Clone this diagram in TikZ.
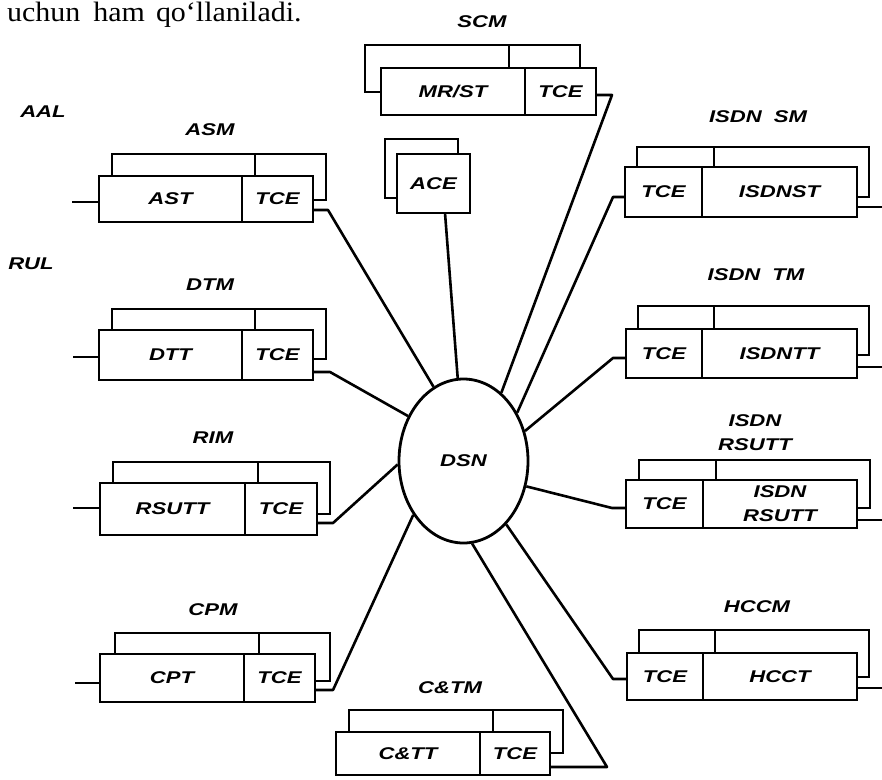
\documentclass[tikz,border=0pt]{standalone}
\usepackage{fontspec}
\newfontfamily\labfont[FakeStretch=1.3]{Liberation Sans}
\newfontfamily\topfont[FakeStretch=1.07]{Liberation Serif}
\usetikzlibrary{shapes.geometric,calc}
\tikzset{
 ln/.style={line width=2.8pt},
 lab/.style={font=\labfont\fontsize{17}{24}\selectfont\bfseries\itshape, inner sep=0pt, align=center},
 cell/.style={lab, draw, fill=white, line width=2.8pt, inner sep=0pt, outer sep=0pt},
 backbox/.style={draw, line width=2.8pt, inner sep=0pt, outer sep=0pt},
 conn/.style={line width=2.6pt, line join=round},
}
% #1 name, #2 left, #3 divider, #4 right, #5 top, #6 bottom, #7 shift of back box, #8 #9 texts
\newcommand\module[9]{%
 \node[backbox, minimum width={(#4-#2)*1pt}, minimum height={(#6-#5)*1pt}] (#1k) at ($({(#2+#4)/2},{(#5+#6)/2})+(#7)$) {};
 \draw[ln] ($(#3,#5)+(#7)$) -- ($(#3,#6)+(#7)$);
 \node[cell, minimum width={(#3-#2)*1pt}, minimum height={(#6-#5)*1pt}] (#1a) at ({(#2+#3)/2},{(#5+#6)/2}) {#8};
 \node[cell, minimum width={(#4-#3)*1pt}, minimum height={(#6-#5)*1pt}] (#1b) at ({(#3+#4)/2},{(#5+#6)/2}) {#9};
}
\begin{document}
\begin{tikzpicture}[x=1pt,y=-1pt]
\useasboundingbox (0,0) rectangle (882,779);

\node[font=\topfont\fontsize{28}{30}\selectfont, anchor=base west, inner sep=0pt] (toptext) at (7,21) {uchun\hspace{13pt}ham\hspace{11pt}qo‘llaniladi.};

% central switching network
\node[draw, ellipse, line width=2.8pt, minimum width=129pt, minimum height=164pt, lab] (dsn) at (463.5,461) {DSN};

% modules
\module{asm}{99}{242}{313}{176}{222}{13,-22}{AST}{TCE}
\module{dtm}{99}{242}{313}{330}{380}{13,-21}{DTT}{TCE}
\module{rim}{100}{245}{317}{483}{535}{13,-21}{RSUTT}{TCE}
\module{cpm}{100}{244}{315}{654}{702}{15,-21}{CPT}{TCE}
\module{ctm}{336}{480}{550}{732}{775}{13,-22}{C\&TT}{TCE}
\module{scm}{381}{525}{596}{68}{115}{-16,-23}{MR/ST}{TCE}
\module{ism}{625}{702}{857}{167}{217}{12,-20}{TCE}{ISDNST}
\module{itm}{626}{702}{857}{329}{378}{12,-23}{TCE}{ISDNTT}
\module{irs}{626}{703}{857}{480}{528}{13,-20}{TCE}{ISDN\\RSUTT}
\module{hcm}{627}{703}{857}{653}{700}{12,-23}{TCE}{HCCT}

% ACE
\node[backbox, minimum width=73pt, minimum height=59pt] (acek) at (421.5,168.5) {};
\node[cell, minimum width=73pt, minimum height=59pt] (ace) at (433.5,183.5) {ACE};

% labels
\node[lab] (aal) at (43,112) {AAL};
\node[lab] (rul) at (31,264) {RUL};
\node[lab] (asml) at (210,130) {ASM};
\node[lab] (dtml) at (210,285) {DTM};
\node[lab] (riml) at (213,438) {RIM};
\node[lab] (cpml) at (213,610) {CPM};
\node[lab] (ctml) at (450,688) {C\&TM};
\node[lab] (scml) at (482,22) {SCM};
\node[lab] (isml) at (758,117) {ISDN\hspace{12pt}SM};
\node[lab] (itml) at (756,275) {ISDN\hspace{12pt}TM};
\node[lab] (irsl) at (755,433) {ISDN\\RSUTT};
\node[lab] (hcml) at (757,607) {HCCM};

% left stubs
\coordinate (asmS) at (72,202);
\coordinate (dtmS) at (73,357);
\coordinate (rimS) at (73,508);
\coordinate (cpmS) at (75,683);
\draw[conn] (asmS) -- (asma.west |- asmS);
\draw[conn] (dtmS) -- (dtma.west |- dtmS);
\draw[conn] (rimS) -- (rima.west |- rimS);
\draw[conn] (cpmS) -- (cpma.west |- cpmS);

% right stubs
\coordinate (ismS) at (882,207);
\coordinate (itmS) at (882,367);
\coordinate (irsS) at (882,520);
\coordinate (hcmS) at (882,688);
\draw[conn] (ismb.east |- ismS) -- (ismS);
\draw[conn] (itmb.east |- itmS) -- (itmS);
\draw[conn] (irsb.east |- irsS) -- (irsS);
\draw[conn] (hcmb.east |- hcmS) -- (hcmS);

% connectors to DSN
\coordinate (asmK) at (328,210);
\coordinate (dtmK) at (330,372);
\coordinate (rimK) at (333,523);
\coordinate (cpmK) at (333,690);
\coordinate (ctmK) at (607,767);
\coordinate (scmK) at (612,95);
\coordinate (aceK) at (445,0);
\coordinate (ismK) at (613,197);
\coordinate (itmK) at (613,358);
\coordinate (irsK) at (612,508);
\coordinate (hcmK) at (613,679);

\draw[conn] (asmb.east |- asmK) -- (asmK) -- (dsn.112);
\draw[conn] (dtmb.east |- dtmK) -- (dtmK) -- (dsn.141);
\draw[conn] (rimb.east |- rimK) -- (rimK) -- (dsn.183);
\draw[conn] (cpmb.east |- cpmK) -- (cpmK) -- (dsn.227);
\draw[conn] (ctmb.east |- ctmK) -- (ctmK) -- (dsn.276.5);
\draw[conn] (scmb.east |- scmK) -- (scmK) -- (dsn.61);
\draw[conn] (ace.south -| aceK) -- (dsn.94.6);
\draw[conn] (isma.west |- ismK) -- (ismK) -- (dsn.42);
\draw[conn] (itma.west |- itmK) -- (itmK) -- (dsn.26);
\draw[conn] (irsa.west |- irsK) -- (irsK) -- (dsn.-22.4);
\draw[conn] (hcma.west |- hcmK) -- (hcmK) -- (dsn.-56.6);
\end{tikzpicture}
\end{document}
